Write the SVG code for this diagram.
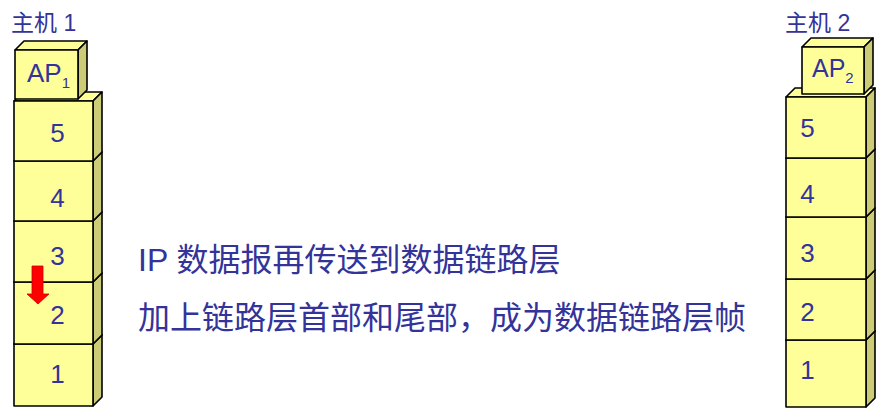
<svg xmlns="http://www.w3.org/2000/svg" width="878" height="408" viewBox="0 0 878 408">
<style>
.f{fill:#FFFF99;stroke:#000;stroke-width:1.6;stroke-linejoin:round}
.t{fill:#FFFF99;stroke:#000;stroke-width:1.6;stroke-linejoin:round}
.s{fill:#CCCC77;stroke:#000;stroke-width:1.6;stroke-linejoin:round}
.lbl{font-family:"Liberation Sans","Noto Sans CJK SC",sans-serif;fill:#333399}
.num{font-size:26px}
.big{font-size:32px}
.ttl{font-size:23px}
</style>
<rect width="878" height="408" fill="#fff"/>
<g id="host1">
<text class="lbl ttl" x="11" y="31">主机 1</text>
</g>
<g id="host1-l1">
<polygon class="t" points="14,344 23,335 102,335 93,344"/>
<polygon class="s" points="93,344 102,335 102,397 93,406"/>
<rect class="f" x="14" y="344" width="79" height="62"/>
<text class="lbl num" x="57.5" y="383" text-anchor="middle">1</text>
</g>
<g id="host1-l2">
<polygon class="t" points="14,282 23,273 102,273 93,282"/>
<polygon class="s" points="93,282 102,273 102,335 93,344"/>
<rect class="f" x="14" y="282" width="79" height="62"/>
<text class="lbl num" x="57.5" y="324" text-anchor="middle">2</text>
</g>
<g id="host1-l3">
<polygon class="t" points="14,221 23,212 102,212 93,221"/>
<polygon class="s" points="93,221 102,212 102,273 93,282"/>
<rect class="f" x="14" y="221" width="79" height="61"/>
<text class="lbl num" x="57.5" y="265" text-anchor="middle">3</text>
</g>
<g id="host1-l4">
<polygon class="t" points="14,161 23,152 102,152 93,161"/>
<polygon class="s" points="93,161 102,152 102,212 93,221"/>
<rect class="f" x="14" y="161" width="79" height="60"/>
<text class="lbl num" x="57.5" y="207" text-anchor="middle">4</text>
</g>
<g id="host1-l5">
<polygon class="t" points="14,101 23,92 102,92 93,101"/>
<polygon class="s" points="93,101 102,92 102,152 93,161"/>
<rect class="f" x="14" y="101" width="79" height="60"/>
<text class="lbl num" x="57.5" y="142" text-anchor="middle">5</text>
</g>
<g id="host1-ap">
<polygon class="t" points="15,50 24,41 87,41 78,50"/>
<polygon class="s" points="78,50 87,41 87,90 78,99"/>
<rect class="f" x="15" y="50" width="63" height="49"/>
<text class="lbl" x="27" y="82" font-size="26">AP<tspan font-size="15" dy="6">1</tspan></text>
</g>
<g id="host2">
<text class="lbl ttl" x="785" y="31">主机 2</text>
</g>
<g id="host2-l1">
<polygon class="t" points="786,340 795,331 875,331 866,340"/>
<polygon class="s" points="866,340 875,331 875,398 866,407"/>
<rect class="f" x="786" y="340" width="80" height="67"/>
<text class="lbl num" x="807.5" y="379" text-anchor="middle">1</text>
</g>
<g id="host2-l2">
<polygon class="t" points="786,279 795,270 875,270 866,279"/>
<polygon class="s" points="866,279 875,270 875,331 866,340"/>
<rect class="f" x="786" y="279" width="80" height="61"/>
<text class="lbl num" x="807.5" y="321" text-anchor="middle">2</text>
</g>
<g id="host2-l3">
<polygon class="t" points="786,217 795,208 875,208 866,217"/>
<polygon class="s" points="866,217 875,208 875,270 866,279"/>
<rect class="f" x="786" y="217" width="80" height="62"/>
<text class="lbl num" x="807.5" y="262" text-anchor="middle">3</text>
</g>
<g id="host2-l4">
<polygon class="t" points="786,158 795,149 875,149 866,158"/>
<polygon class="s" points="866,158 875,149 875,208 866,217"/>
<rect class="f" x="786" y="158" width="80" height="59"/>
<text class="lbl num" x="807.5" y="203" text-anchor="middle">4</text>
</g>
<g id="host2-l5">
<polygon class="t" points="786,97 795,88 875,88 866,97"/>
<polygon class="s" points="866,97 875,88 875,149 866,158"/>
<rect class="f" x="786" y="97" width="80" height="61"/>
<text class="lbl num" x="807.5" y="137" text-anchor="middle">5</text>
</g>
<g id="host2-ap">
<polygon class="t" points="802,47 811,38 873,38 864,47"/>
<polygon class="s" points="864,47 873,38 873,85 864,94"/>
<rect class="f" x="802" y="47" width="62" height="47"/>
<text class="lbl" x="812" y="77" font-size="25">AP<tspan font-size="15" dy="6">2</tspan></text>
</g>
<g id="connectors">
<polygon points="32,266 43,266 43,294 49,294 38,304 27,294 32,294" fill="#FF0000" stroke="#CC0000" stroke-width="0.8"/>
</g>
<g id="captions">
<text class="lbl big" x="138" y="271">IP 数据报再传送到数据链路层</text>
<text class="lbl big" x="138" y="329">加上链路层首部和尾部，成为数据链路层帧</text>
</g>
</svg>
